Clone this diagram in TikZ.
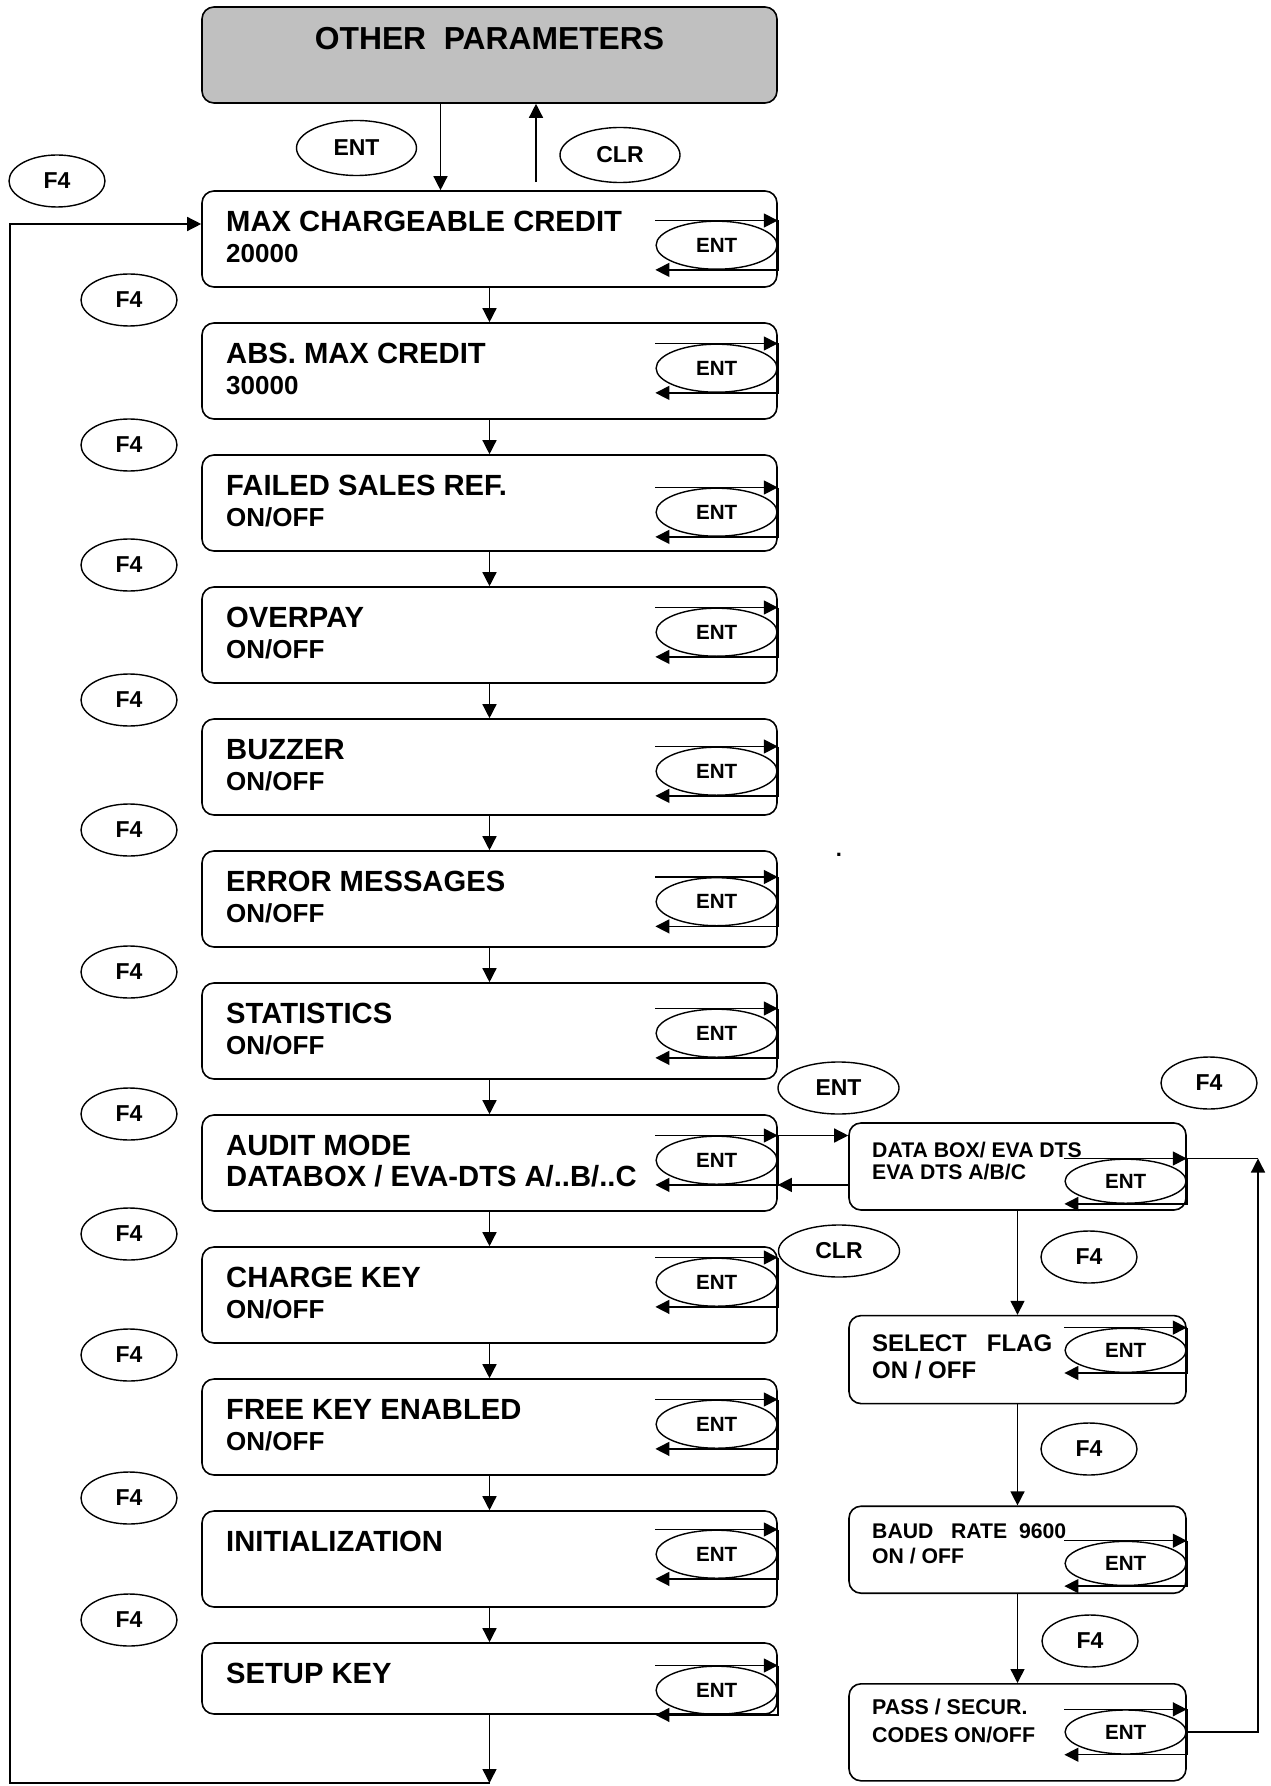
\documentclass[tikz,border=0pt]{standalone}
\usepackage{fontspec}
\setmainfont{Liberation Sans}
\usetikzlibrary{positioning, shapes.geometric, arrows.meta}

\definecolor{panelgray}{RGB}{192,192,192}
\newcommand{\valsize}{\fontsize{13}{15.6}\selectfont}

\begin{document}
\begin{tikzpicture}[
    x=0.5pt, y=-0.5pt,
    node distance=17.2pt,
    >={Triangle[length=7pt, width=7pt]},
    box/.style={draw, line width=0.8pt, rounded corners=6pt, minimum width=287.5pt, minimum height=48pt, inner sep=0pt},
    sidebox/.style={box, minimum width=168.5pt, minimum height=43.5pt},
    txt/.style={font=\fontsize{14.6}{15.6}\selectfont\bfseries, align=left, inner sep=0pt, outer sep=0pt},
    stxt/.style={txt, font=\fontsize{10.6}{11}\selectfont\bfseries},
    keycap/.style={draw, ellipse, line width=0.7pt, inner sep=0pt, minimum width=48pt, minimum height=26pt, font=\fontsize{11.5}{12}\selectfont\bfseries},
    entoval/.style={keycap, minimum width=60.5pt, minimum height=24pt, font=\fontsize{10.3}{11}\selectfont\bfseries},
    arr/.style={->, line width=0.7pt},
    wire/.style={line width=0.7pt},
]
\useasboundingbox (0,0) rectangle (1270,1786);

% Top panel
\node[box, fill=panelgray] (other) at (489.5,55) {};
\node[txt, font=\fontsize{15.9}{17}\selectfont\bfseries, below=10.8pt of other.north] (other-txt) {OTHER\ \ PARAMETERS};
\node[keycap, minimum width=60pt, minimum height=27.5pt] (ent-top) at (356.5,148) {ENT};
\node[keycap, minimum width=60pt, minimum height=27.5pt] (clr-top) at (620,155) {CLR};
\node[keycap] (f4-top) at (57,181) {F4};

% Main column
\node[box] (maxcr) at (489.5,239) {};
\node[box, below=of maxcr] (absmax) {};
\node[box, below=of absmax] (failed) {};
\node[box, below=of failed] (overpay) {};
\node[box, below=of overpay] (buzzer) {};
\node[box, below=of buzzer] (errmsg) {};
\node[box, below=of errmsg] (stats) {};
\node[box, below=of stats] (audit) {};
\node[box, below=of audit] (charge) {};
\node[box, below=of charge] (freekey) {};
\node[box, below=of freekey] (init) {};
\node[box, below=of init, minimum height=35.5pt] (setup) {};

\node[txt, below right=10.5pt and 12.5pt of maxcr.north west] (maxcr-txt) {MAX CHARGEABLE CREDIT\\{\valsize 20000}};
\node[txt, below right=10.5pt and 12.5pt of absmax.north west] (absmax-txt) {ABS. MAX CREDIT\\{\valsize 30000}};
\node[txt, below right=10.5pt and 12.5pt of failed.north west] (failed-txt) {FAILED SALES REF.\\{\valsize ON/OFF}};
\node[txt, below right=10.5pt and 12.5pt of overpay.north west] (overpay-txt) {OVERPAY\\{\valsize ON/OFF}};
\node[txt, below right=10.5pt and 12.5pt of buzzer.north west] (buzzer-txt) {BUZZER\\{\valsize ON/OFF}};
\node[txt, below right=10.5pt and 12.5pt of errmsg.north west] (errmsg-txt) {ERROR MESSAGES\\{\valsize ON/OFF}};
\node[txt, below right=10.5pt and 12.5pt of stats.north west] (stats-txt) {STATISTICS\\{\valsize ON/OFF}};
\node[txt, below right=10.5pt and 12.5pt of audit.north west] (audit-txt) {AUDIT MODE\\DATABOX / EVA-DTS A/..B/..C};
\node[txt, below right=10.5pt and 12.5pt of charge.north west] (charge-txt) {CHARGE KEY\\{\valsize ON/OFF}};
\node[txt, below right=10.5pt and 12.5pt of freekey.north west] (freekey-txt) {FREE KEY ENABLED\\{\valsize ON/OFF}};
\node[txt, below right=10.5pt and 12.5pt of init.north west] (init-txt) {INITIALIZATION};
\node[txt, below right=10.5pt and 12.5pt of setup.north west] (setup-txt) {SETUP KEY};

% ENT keys inside the main boxes
\node[entoval, anchor=east] (maxcr-ent) at ([yshift=-27.5pt]maxcr.north east) {ENT};
\node[entoval, anchor=east] (absmax-ent) at ([yshift=-23pt]absmax.north east) {ENT};
\node[entoval, anchor=east] (failed-ent) at ([yshift=-29pt]failed.north east) {ENT};
\node[entoval, anchor=east] (overpay-ent) at ([yshift=-23pt]overpay.north east) {ENT};
\node[entoval, anchor=east] (buzzer-ent) at ([yshift=-26.5pt]buzzer.north east) {ENT};
\node[entoval, anchor=east] (errmsg-ent) at ([yshift=-25.75pt]errmsg.north east) {ENT};
\node[entoval, anchor=east] (stats-ent) at ([yshift=-25.5pt]stats.north east) {ENT};
\node[entoval, anchor=east] (audit-ent) at ([yshift=-23pt]audit.north east) {ENT};
\node[entoval, anchor=east] (charge-ent) at ([yshift=-18pt]charge.north east) {ENT};
\node[entoval, anchor=east] (freekey-ent) at ([yshift=-23pt]freekey.north east) {ENT};
\node[entoval, anchor=east] (init-ent) at ([yshift=-22pt]init.north east) {ENT};
\node[entoval, anchor=east] (setup-ent) at ([yshift=-24pt]setup.north east) {ENT};

% F4 keys, left column
\node[keycap] (f4-1) at (129,300) {F4};
\node[keycap] (f4-2) at (129,445) {F4};
\node[keycap] (f4-3) at (129,565) {F4};
\node[keycap] (f4-4) at (129,700) {F4};
\node[keycap] (f4-5) at (129,830) {F4};
\node[keycap] (f4-6) at (129,972) {F4};
\node[keycap] (f4-7) at (129,1114) {F4};
\node[keycap] (f4-8) at (129,1234) {F4};
\node[keycap] (f4-9) at (129,1355) {F4};
\node[keycap] (f4-10) at (129,1498) {F4};
\node[keycap] (f4-11) at (129,1620) {F4};

% keys beside AUDIT MODE / CHARGE KEY
\node[keycap, minimum width=60.5pt] (ent-aud) at (838.5,1088) {ENT};
\node[keycap, minimum width=60.5pt] (clr-chg) at (839,1251) {CLR};

% Audit sub menu
\node[sidebox] (databox) at (1017.5,1166.5) {};
\node[sidebox, below=52pt of databox, minimum height=44pt] (selflag) {};
\node[sidebox, below=50.5pt of selflag] (baud) {};
\node[sidebox, below=44.5pt of baud, minimum height=48.5pt] (pass) {};

\node[stxt, below right=10pt and 12pt of databox.north west] (databox-txt) {DATA BOX/ EVA DTS\\EVA DTS A/B/C};
\node[stxt, font=\fontsize{12}{13.5}\selectfont\bfseries, below right=9.75pt and 12pt of selflag.north west] (selflag-txt) {SELECT\ \ \ FLAG\\ON / OFF};
\node[stxt, font=\fontsize{10.6}{12.5}\selectfont\bfseries, below right=9pt and 12pt of baud.north west] (baud-txt) {BAUD\ \ \ RATE\ \ 9600\\ON / OFF};
\node[stxt, font=\fontsize{10.7}{14}\selectfont\bfseries, below right=8pt and 12pt of pass.north west] (pass-txt) {PASS / SECUR.\\CODES ON/OFF};

\node[entoval, minimum height=22pt, anchor=east] (databox-ent) at ([yshift=-29.5pt]databox.north east) {ENT};
\node[entoval, minimum height=22pt, anchor=east] (selflag-ent) at ([yshift=-17.75pt]selflag.north east) {ENT};
\node[entoval, minimum height=22pt, anchor=east] (baud-ent) at ([yshift=-29pt]baud.north east) {ENT};
\node[entoval, minimum height=22pt, anchor=east] (pass-ent) at ([yshift=-24.5pt]pass.north east) {ENT};

\node[keycap] (f4-r0) at (1209,1083) {F4};
\node[keycap] (f4-r1) at (1089,1257) {F4};
\node[keycap] (f4-r2) at (1089,1449) {F4};
\node[keycap] (f4-r3) at (1090,1641) {F4};

\node[inner sep=0pt, font=\fontsize{11}{12}\selectfont\bfseries] (dot) at (839,855) {.};

% Enter / clear between the panel and the first item
\draw[arr] ([xshift=-24.5pt]other.south) -- ([xshift=-24.5pt]maxcr.north);
\draw[arr] ([xshift=23.25pt, yshift=4pt]maxcr.north) -- ([xshift=23.25pt]other.south);

% F4 chain down the main column
\draw[arr] (maxcr.south) -- (absmax.north);
\draw[arr] (absmax.south) -- (failed.north);
\draw[arr] (failed.south) -- (overpay.north);
\draw[arr] (overpay.south) -- (buzzer.north);
\draw[arr] (buzzer.south) -- (errmsg.north);
\draw[arr] (errmsg.south) -- (stats.north);
\draw[arr] (stats.south) -- (audit.north);
\draw[arr] (audit.south) -- (charge.north);
\draw[arr] (charge.south) -- (freekey.north);
\draw[arr] (freekey.south) -- (init.north);
\draw[arr] (init.south) -- (setup.north);

% back to the first item
\coordinate (back) at (489.5,1783);
\coordinate (left) at (10,1783);
\draw[arr] (setup.south) -- (back);
\draw[arr] (back) -- (left) |- ([yshift=7.5pt]maxcr.west);

% ENT loops, main column
\draw[arr] (maxcr-ent.north -| maxcr-ent.west) -- (maxcr-ent.north -| maxcr.east);
\draw[arr] (maxcr-ent.north -| maxcr.east) -- (maxcr-ent.south -| maxcr.east) -- (maxcr-ent.south -| maxcr-ent.west);
\draw[arr] (absmax-ent.north -| absmax-ent.west) -- (absmax-ent.north -| absmax.east);
\draw[arr] (absmax-ent.north -| absmax.east) -- (absmax-ent.south -| absmax.east) -- (absmax-ent.south -| absmax-ent.west);
\draw[arr] (failed-ent.north -| failed-ent.west) -- (failed-ent.north -| failed.east);
\draw[arr] (failed-ent.north -| failed.east) -- (failed-ent.south -| failed.east) -- (failed-ent.south -| failed-ent.west);
\draw[arr] (overpay-ent.north -| overpay-ent.west) -- (overpay-ent.north -| overpay.east);
\draw[arr] (overpay-ent.north -| overpay.east) -- (overpay-ent.south -| overpay.east) -- (overpay-ent.south -| overpay-ent.west);
\draw[arr] (buzzer-ent.north -| buzzer-ent.west) -- (buzzer-ent.north -| buzzer.east);
\draw[arr] (buzzer-ent.north -| buzzer.east) -- (buzzer-ent.south -| buzzer.east) -- (buzzer-ent.south -| buzzer-ent.west);
\draw[arr] (errmsg-ent.north -| errmsg-ent.west) -- (errmsg-ent.north -| errmsg.east);
\draw[arr] (errmsg-ent.north -| errmsg.east) -- (errmsg-ent.south -| errmsg.east) -- (errmsg-ent.south -| errmsg-ent.west);
\draw[arr] (stats-ent.north -| stats-ent.west) -- (stats-ent.north -| stats.east);
\draw[arr] (stats-ent.north -| stats.east) -- (stats-ent.south -| stats.east) -- (stats-ent.south -| stats-ent.west);
\draw[arr] (audit-ent.north -| audit-ent.west) -- (audit-ent.north -| audit.east);
\draw[arr] (audit-ent.north -| audit.east) -- (audit-ent.south -| audit.east) -- (audit-ent.south -| audit-ent.west);
\draw[arr] (charge-ent.north -| charge-ent.west) -- (charge-ent.north -| charge.east);
\draw[arr] (charge-ent.north -| charge.east) -- (charge-ent.south -| charge.east) -- (charge-ent.south -| charge-ent.west);
\draw[arr] (freekey-ent.north -| freekey-ent.west) -- (freekey-ent.north -| freekey.east);
\draw[arr] (freekey-ent.north -| freekey.east) -- (freekey-ent.south -| freekey.east) -- (freekey-ent.south -| freekey-ent.west);
\draw[arr] (init-ent.north -| init-ent.west) -- (init-ent.north -| init.east);
\draw[arr] (init-ent.north -| init.east) -- (init-ent.south -| init.east) -- (init-ent.south -| init-ent.west);
\draw[arr] (setup-ent.north -| setup-ent.west) -- (setup-ent.north -| setup.east);
\draw[arr] (setup-ent.north -| setup.east) -- (setup-ent.south -| setup.east) -- (setup-ent.south -| setup-ent.west);

% AUDIT MODE <-> sub menu
\draw[arr] (audit-ent.north -| audit.east) -- (audit-ent.north -| databox.west);
\draw[arr] (audit-ent.south -| databox.west) -- (audit-ent.south -| audit.east);

% sub menu chain
\draw[arr] (databox.south) -- (selflag.north);
\draw[arr] (selflag.south) -- (baud.north);
\draw[arr] (baud.south) -- (pass.north);

% ENT loops, sub menu
\draw[arr] (databox-ent.north -| databox-ent.west) -- (databox-ent.north -| databox.east);
\draw[arr] (databox-ent.north -| databox.east) -- (databox-ent.south -| databox.east) -- (databox-ent.south -| databox-ent.west);
\draw[arr] (selflag-ent.north -| selflag-ent.west) -- (selflag-ent.north -| selflag.east);
\draw[arr] (selflag-ent.north -| selflag.east) -- (selflag-ent.south -| selflag.east) -- (selflag-ent.south -| selflag-ent.west);
\draw[arr] (baud-ent.north -| baud-ent.west) -- (baud-ent.north -| baud.east);
\draw[arr] (baud-ent.north -| baud.east) -- (baud-ent.south -| baud.east) -- (baud-ent.south -| baud-ent.west);
\draw[arr] (pass-ent.north -| pass-ent.west) -- (pass-ent.north -| pass.east);
\draw[arr] (pass-ent.north -| pass.east) -- (pass-ent.south -| pass.east) -- (pass-ent.south -| pass-ent.west);

% F4 from the last sub item back to the first
\coordinate (retx) at (1258,0);
\draw[wire] (databox-ent.north -| databox.east) -- (databox-ent.north -| retx);
\draw[arr] (pass-ent.east) -| (databox-ent.north -| retx);

\end{tikzpicture}
\end{document}
